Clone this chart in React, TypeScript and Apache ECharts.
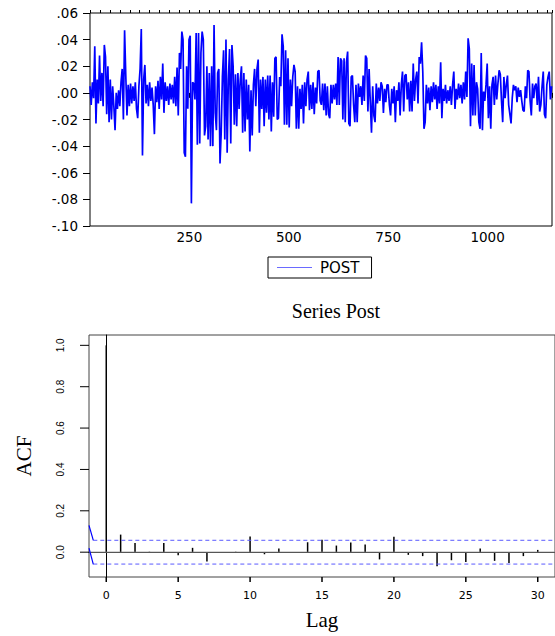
import React, { useEffect, useRef } from 'react';
import * as echarts from 'echarts';

const POST_STEP = 3;
const postPermille: number[] = [
  5, -9, 8, -4, 35, -23, 10, -8, 28, -6, 15, -10, 36, 27, -16, 20, -22, 10, -20, 5,
  -10, -28, 0, -12, 2, -10, 8, 18, -20, 47, 13, -17, 6, -10, 7, -8, 5, -6, 8, -12,
  -19, 5, 18, 48, -47, 10, 21, -8, 6, -10, 8, -6, 4, -9, -31, 5, -7, 9, -12, 12,
  -5, 22, -15, 8, -6, 5, -9, 7, -5, 6, -8, 12, -10, 19, -17, 30, 18, 46, 40, -45,
  -48, 20, -12, 40, 43, -83, 8, 7, -5, 45, -39, 45, -38, 30, 46, 40, -32, -25, 20, -35,
  15, -40, 20, -40, 51, -15, -28, 15, 18, -53, -30, 12, 32, -35, 40, -45, 10, 33, -38, 36,
  20, -24, 14, -25, 15, -12, 10, 20, -30, 15, -29, 10, -20, 6, -44, 2, -32, 6, 18, -10,
  18, 25, -30, 10, -12, 12, -25, 10, -15, 13, -20, 13, -29, 8, -18, 26, 27, -20, -19, 12,
  5, 44, 35, -24, 32, -24, 26, -26, 10, -10, 12, 21, 16, -27, 5, -27, 3, -12, 6, -23,
  8, -10, 10, 16, -13, 6, -12, 8, -16, 4, -8, 16, 17, -6, -9, 7, -13, 7, -17, 5,
  -16, -19, 6, -8, 6, -5, 7, -9, 27, -9, 26, 24, -20, 26, -22, 23, 31, -23, -25, 12,
  13, -9, -22, 6, -22, 7, -3, 5, -9, 13, -6, 28, 26, -14, 18, -7, -30, 5, -17, -22,
  7, -8, 4, -6, 8, 5, -15, 3, -7, 6, 6, -9, -17, 3, -8, 5, -22, 2, -6, 8,
  -17, 6, 16, -14, 13, 14, -5, 8, -14, 9, -14, 22, -6, 10, 16, -8, 27, 22, 38, 16,
  -27, -22, 6, -8, 4, -13, 5, -7, 8, -5, 6, -12, 5, -8, 23, -19, 3, -6, 6, -8,
  2, -6, 5, -9, 6, 16, -12, 3, -5, 7, -4, 6, -8, 8, -5, 16, -3, 41, 33, -25,
  22, -17, 21, -17, 8, 3, -22, -27, 30, -28, 1, -6, 6, 22, -19, 5, -27, 6, 12, -9,
  13, -5, 7, 17, 14, -6, -22, 12, -4, 6, 13, -9, -16, -23, -4, 6, 2, 5, -7, 4,
  -3, 2, -6, -13, -14, 5, -4, 17, 16, -6, -17, 7, -4, 5, 7, -9, 12, -14, -9, 5,
  16, -16, -19, 6, 12, 16, -5, 5,
];
const postObsMax = 1162;
const postYMin = -0.1;
const postYMax = 0.06;
const postYInterval = 0.02;
const postXInterval = 250;
const postXMinorInterval = 25;

// ---- Bottom panel: ACF of Post
const acfLags: number[] = [
  0, 1, 2, 3, 4, 5, 6, 7, 8, 9, 10, 11, 12, 13, 14, 15,
  16, 17, 18, 19, 20, 21, 22, 23, 24, 25, 26, 27, 28, 29, 30,
];
const acfValues: number[] = [
  1.0, 0.085, 0.044, 0.002, 0.044, -0.015, 0.021, -0.045, -0.002, 0.002, 0.076, -0.01, 0.018, 0.001, 0.048, 0.06,
  0.032, 0.047, 0.037, -0.035, 0.074, -0.013, -0.019, -0.068, -0.039, -0.048, 0.018, -0.042, -0.052, -0.019, 0.011,
];
const acfConfidence = 0.0575;
const acfLagTicks: number[] = [0, 5, 10, 15, 20, 25, 30];
const acfYTicks: number[] = [0, 0.2, 0.4, 0.6, 0.8, 1.0];
const acfXMin = -1.2;
const acfXMax = 31.2;
const acfYMin = -0.12;
const acfYMax = 1.05;
// short solid blue segments at the left edge of the ACF panel
const acfUpperStub: number[][] = [[-1.2, 0.13], [-0.9, 0.057]];
const acfLowerStub: number[][] = [[-1.2, 0.02], [-0.9, -0.059]];
const acfBandStart = -0.9;

const SANS = 'Liberation Sans, Arial, Helvetica, sans-serif';
const WIDE = 'DejaVu Sans, Verdana, sans-serif';
const SERIF = 'Liberation Serif, Times New Roman, serif';

function fmtTop(v: number): string {
  const a = Math.abs(v).toFixed(2).replace(/^0/, '');
  return (v < -1e-9 ? '-' : '') + a;
}

export default function App() {
  const ref = useRef<HTMLDivElement | null>(null);

  useEffect(() => {
    if (!ref.current) return;
    const chart = echarts.init(ref.current, undefined, { renderer: 'svg' });

    const postData = postPermille.map((v, k) => [k * POST_STEP, v / 1000]);
    const acfData = acfLags.map((l, i) => [l, acfValues[i]]);
    const yTickData = acfYTicks.map((v) => [acfXMin, v]);
    const xTickData = acfLagTicks.map((l) => [l, acfYMin]);

    const option: any = {
      animation: false,
      backgroundColor: '#ffffff',
      title: [
        {
          text: 'Series Post',
          left: 331,
          top: 296,
          textAlign: 'center',
          textStyle: { fontFamily: SERIF, fontSize: 20, fontWeight: 'normal', color: '#000' },
        },
      ],
      legend: {
        data: ['POST'],
        left: 268,
        top: 257,
        icon: 'rect',
        itemWidth: 35,
        itemHeight: 1,
        padding: [3, 12, 3, 9],
        borderColor: '#000',
        borderWidth: 1,
        borderRadius: 0,
        itemStyle: { color: '#6a6aff' },
        textStyle: { fontFamily: WIDE, fontSize: 15, color: '#000', padding: [0, 0, 0, 3] },
      },
      grid: [
        { left: 90, top: 13, width: 462, height: 213, show: true, borderColor: '#000', borderWidth: 1, backgroundColor: 'transparent' },
        { left: 89, top: 335, width: 473, height: 242, show: true, borderColor: '#444', borderWidth: 1, backgroundColor: 'transparent' },
      ],
      xAxis: [
        {
          type: 'value',
          gridIndex: 0,
          min: 0,
          max: postObsMax,
          interval: postXInterval,
          axisLine: { show: false },
          splitLine: { show: false },
          axisTick: { show: true, length: 5, lineStyle: { color: '#000' } },
          axisLabel: {
            show: true,
            margin: 4,
            fontFamily: WIDE,
            fontSize: 13.5,
            color: '#000',
            formatter: (v: number) => (v > 0 && v % postXInterval === 0 ? String(v) : ''),
          },
        },
        {
          type: 'value',
          gridIndex: 0,
          min: 0,
          max: postObsMax,
          interval: postXMinorInterval,
          axisLine: { show: false },
          splitLine: { show: false },
          axisTick: { show: true, length: 3, lineStyle: { color: '#000' } },
          axisLabel: { show: false },
        },
        {
          type: 'value',
          gridIndex: 1,
          min: acfXMin,
          max: acfXMax,
          axisLine: { show: true, lineStyle: { color: '#000', width: 1 } },
          splitLine: { show: false },
          axisTick: { show: false },
          axisLabel: {
            show: true,
            customValues: acfLagTicks,
            margin: 13,
            fontFamily: WIDE,
            fontSize: 11,
            color: '#000',
          },
          name: 'Lag',
          nameLocation: 'middle',
          nameGap: 32,
          nameTextStyle: { fontFamily: SERIF, fontSize: 21, color: '#000' },
        },
      ],
      yAxis: [
        {
          type: 'value',
          gridIndex: 0,
          min: postYMin,
          max: postYMax,
          interval: postYInterval,
          axisLine: { show: false },
          splitLine: { show: false },
          axisTick: { show: true, length: 7, lineStyle: { color: '#000' } },
          axisLabel: { margin: 12, fontFamily: WIDE, fontSize: 13.5, color: '#000', formatter: fmtTop },
        },
        {
          type: 'value',
          gridIndex: 1,
          min: acfYMin,
          max: acfYMax,
          axisLine: { show: true, lineStyle: { color: '#000', width: 1 } },
          splitLine: { show: false },
          axisTick: { show: false },
          axisLabel: {
            customValues: acfYTicks,
            rotate: 90,
            margin: 24,
            fontFamily: SANS,
            fontSize: 10,
            color: '#000',
            formatter: (v: number) => v.toFixed(1),
          },
          name: 'ACF',
          nameLocation: 'middle',
          nameGap: 55,
          nameRotate: 90,
          nameTextStyle: { fontFamily: SERIF, fontSize: 21, color: '#000' },
        },
      ],
      series: [
        {
          name: 'POST',
          type: 'line',
          xAxisIndex: 0,
          yAxisIndex: 0,
          data: postData,
          showSymbol: false,
          symbol: 'none',
          lineStyle: { color: '#0000ff', width: 1.7 },
          itemStyle: { color: '#0000ff' },
          silent: true,
        },
        {
          name: 'zero',
          type: 'line',
          xAxisIndex: 2,
          yAxisIndex: 1,
          data: [[acfXMin, 0], [acfXMax, 0]],
          showSymbol: false,
          symbol: 'none',
          lineStyle: { color: '#808080', width: 1 },
          silent: true,
        },
        {
          name: 'acf',
          type: 'custom',
          xAxisIndex: 2,
          yAxisIndex: 1,
          data: acfData,
          silent: true,
          renderItem: (_p: any, api: any) => {
            const p0 = api.coord([api.value(0), 0]);
            const p1 = api.coord([api.value(0), api.value(1)]);
            return {
              type: 'line',
              shape: { x1: p0[0], y1: p0[1], x2: p1[0], y2: p1[1] },
              style: { stroke: '#000', lineWidth: 1.5 },
            };
          },
        },
        {
          name: 'acfYTicks',
          type: 'custom',
          xAxisIndex: 2,
          yAxisIndex: 1,
          data: yTickData,
          silent: true,
          clip: false,
          renderItem: (_p: any, api: any) => {
            const p = api.coord([api.value(0), api.value(1)]);
            return {
              type: 'line',
              shape: { x1: p[0] - 9, y1: p[1], x2: p[0], y2: p[1] },
              style: { stroke: '#000', lineWidth: 1 },
            };
          },
        },
        {
          name: 'acfXTicks',
          type: 'custom',
          xAxisIndex: 2,
          yAxisIndex: 1,
          data: xTickData,
          silent: true,
          clip: false,
          renderItem: (_p: any, api: any) => {
            const p = api.coord([api.value(0), api.value(1)]);
            return {
              type: 'line',
              shape: { x1: p[0], y1: p[1], x2: p[0], y2: p[1] + 5 },
              style: { stroke: '#000', lineWidth: 1.5 },
            };
          },
        },
        {
          name: 'ciUpper',
          type: 'line',
          xAxisIndex: 2,
          yAxisIndex: 1,
          data: [[acfBandStart, acfConfidence], [acfXMax, acfConfidence]],
          showSymbol: false,
          symbol: 'none',
          lineStyle: { color: '#5a5aff', width: 1, type: [4, 3] },
          silent: true,
        },
        {
          name: 'ciLower',
          type: 'line',
          xAxisIndex: 2,
          yAxisIndex: 1,
          data: [[acfBandStart, -acfConfidence], [acfXMax, -acfConfidence]],
          showSymbol: false,
          symbol: 'none',
          lineStyle: { color: '#5a5aff', width: 1, type: [4, 3] },
          silent: true,
        },
        {
          name: 'stubUpper',
          type: 'line',
          xAxisIndex: 2,
          yAxisIndex: 1,
          data: acfUpperStub,
          showSymbol: false,
          symbol: 'none',
          lineStyle: { color: '#0000ff', width: 1.2 },
          silent: true,
        },
        {
          name: 'stubLower',
          type: 'line',
          xAxisIndex: 2,
          yAxisIndex: 1,
          data: acfLowerStub,
          showSymbol: false,
          symbol: 'none',
          lineStyle: { color: '#0000ff', width: 1.2 },
          silent: true,
        },
      ],
    };

    chart.setOption(option);
    return () => {
      chart.dispose();
    };
  }, []);

  return (
    <div
      ref={ref}
      style={{ position: 'fixed', left: 0, top: 0, width: 555, height: 636, background: '#fff' }}
    />
  );
}
